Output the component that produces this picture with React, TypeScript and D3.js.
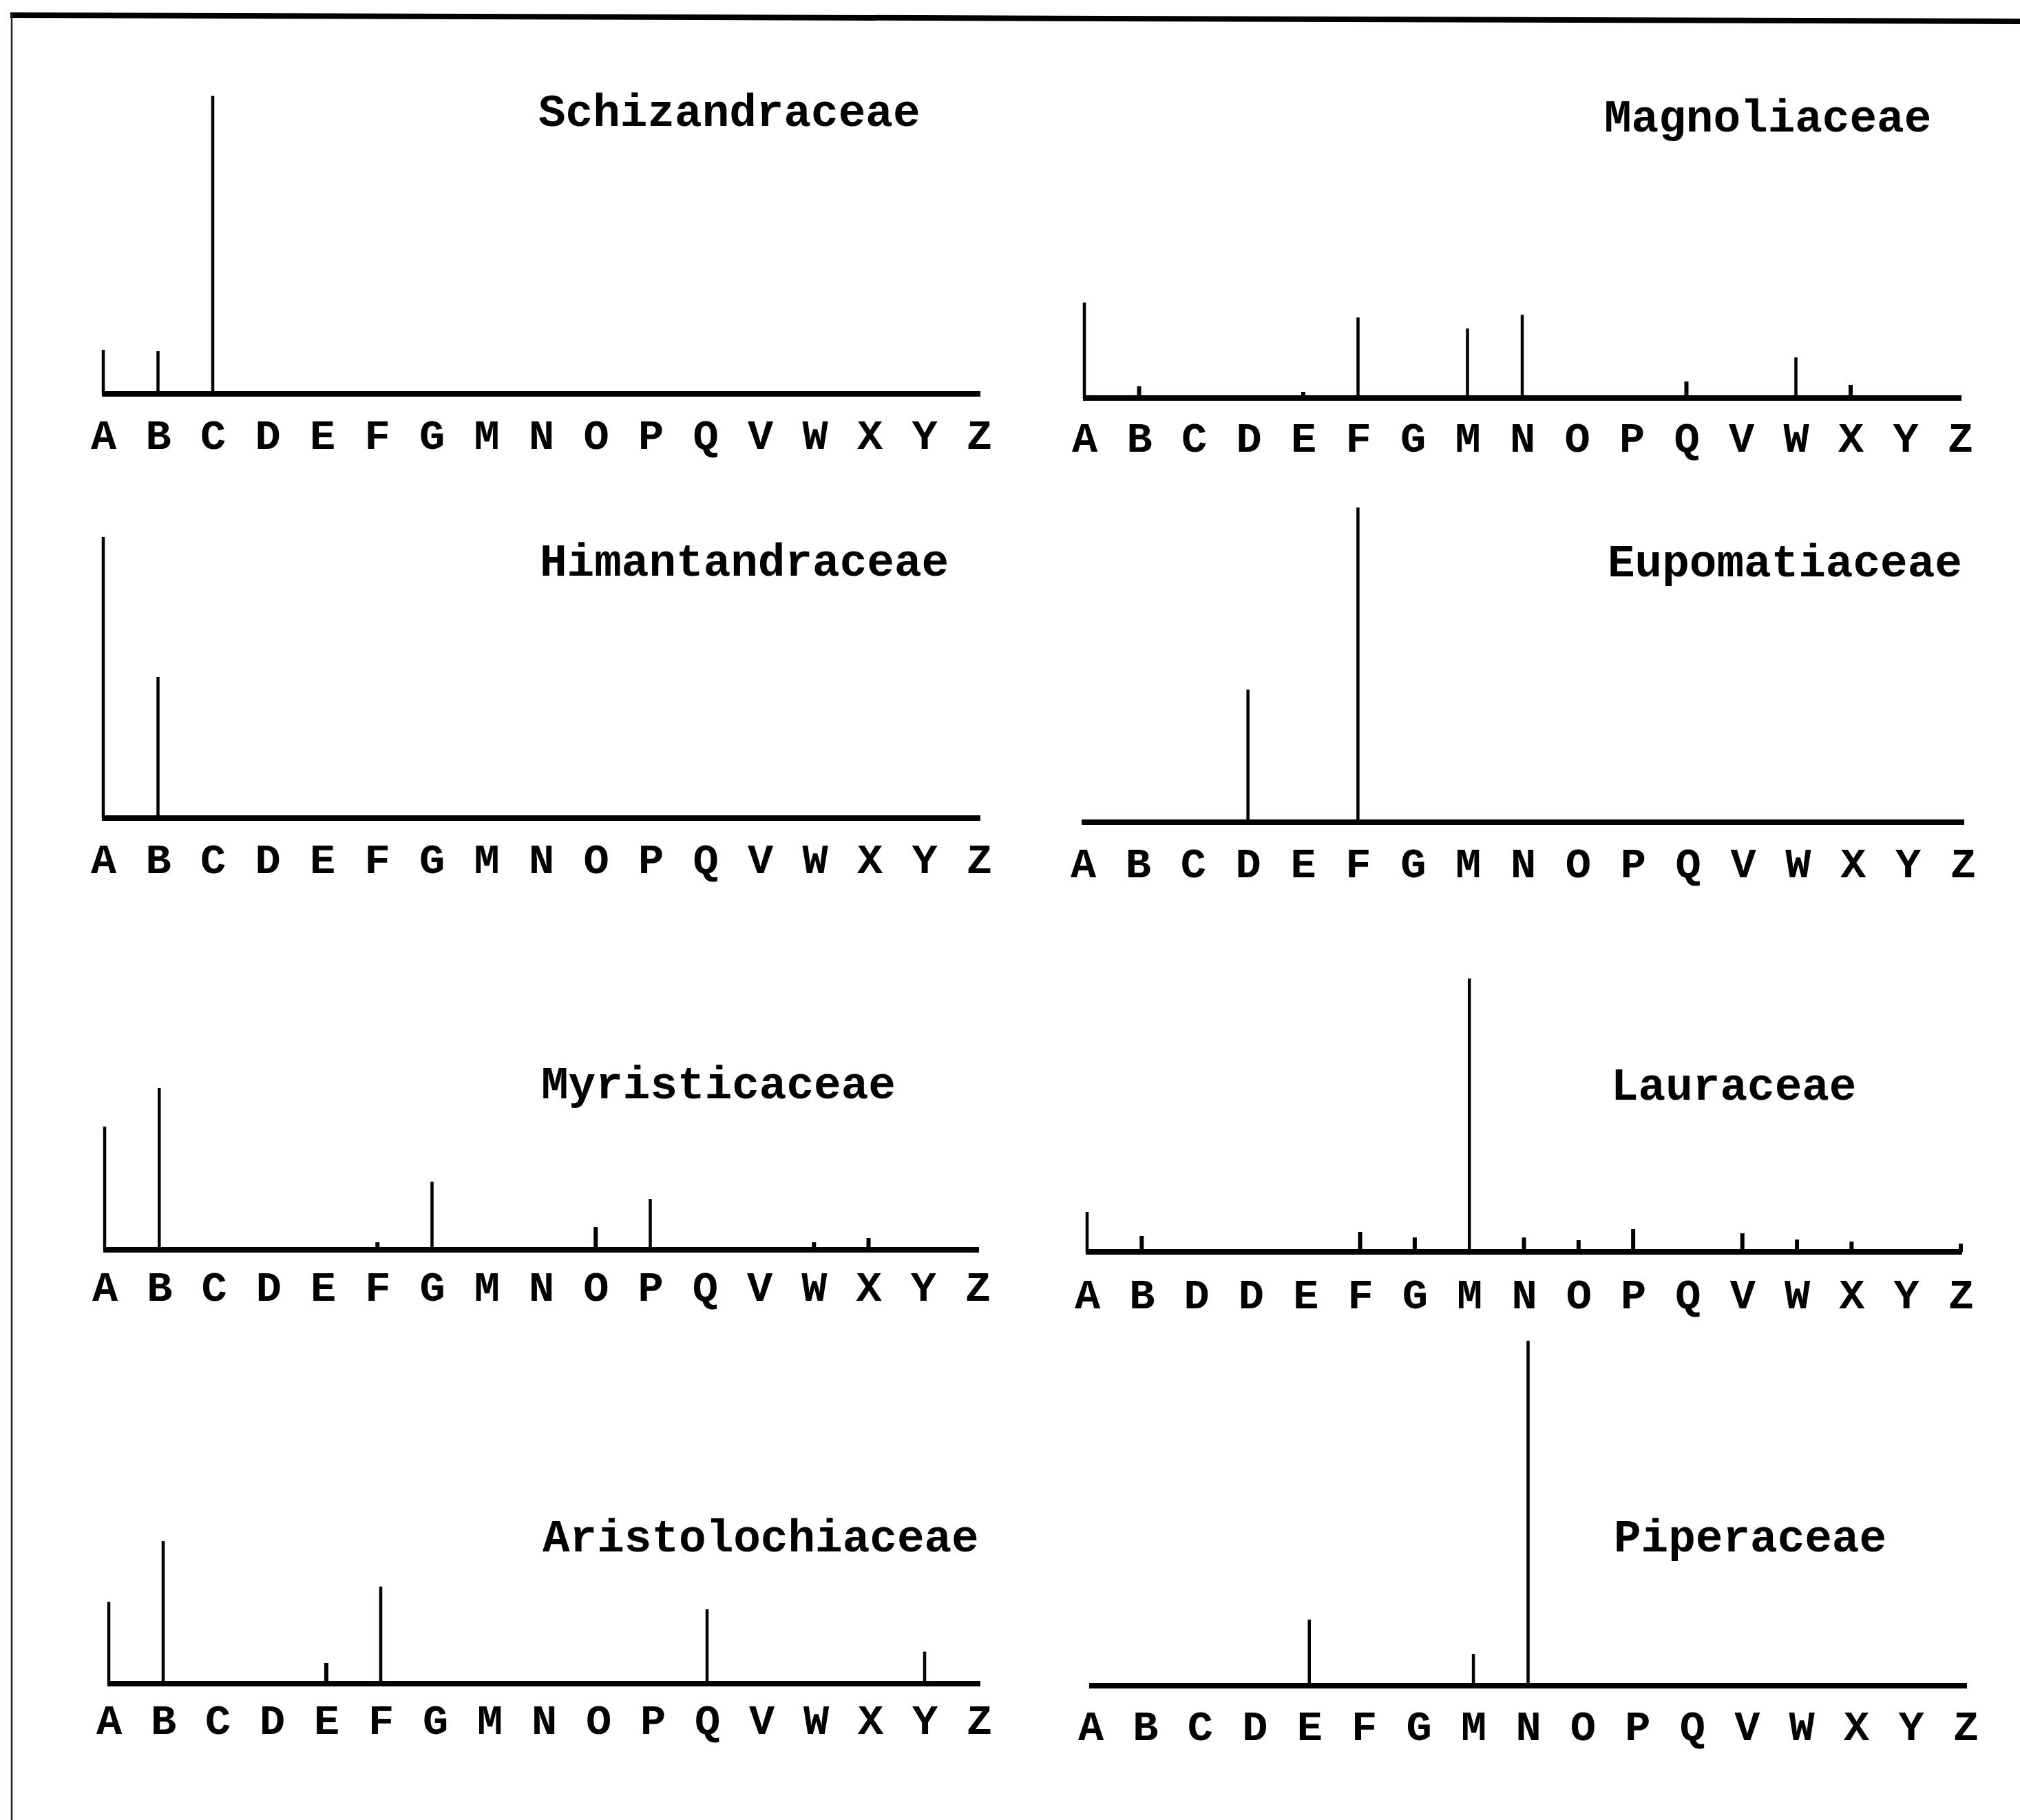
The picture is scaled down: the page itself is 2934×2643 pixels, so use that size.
import React, { useEffect, useRef } from 'react';
import * as d3 from 'd3';

// category labels along each x axis
const letters = ['A', 'B', 'C', 'D', 'E', 'F', 'G', 'M', 'N', 'O', 'P', 'Q', 'V', 'W', 'X', 'Y', 'Z'];
// the Lauraceae panel prints "D" twice in the original figure
const lauraceaeLetters = ['A', 'B', 'D', 'D', 'E', 'F', 'G', 'M', 'N', 'O', 'P', 'Q', 'V', 'W', 'X', 'Y', 'Z'];

// relative peak heights, one value per letter
const schizandraceae = [12.8, 12.4, 86.6, 0, 0, 0, 0, 0, 0, 0, 0, 0, 0, 0, 0, 0, 0];
const magnoliaceae = [27.7, 3.4, 0, 0, 1.8, 23.4, 0, 20.2, 24.2, 0, 0, 4.8, 0, 11.8, 3.8, 0, 0];
const himantandraceae = [81.6, 41, 0, 0, 0, 0, 0, 0, 0, 0, 0, 0, 0, 0, 0, 0, 0];
const eupomatiaceae = [0, 0, 0, 38.5, 0, 91.4, 0, 0, 0, 0, 0, 0, 0, 0, 0, 0, 0];
const myristicaceae = [35.8, 47, 0, 0, 0, 2.2, 19.8, 0, 0, 6.6, 14.8, 0, 0, 2.2, 3.4, 0, 0];
const lauraceae = [11.6, 4.6, 0, 0, 0, 5.8, 4.2, 79.4, 4.2, 3.4, 6.6, 0, 5.4, 3.6, 3, 0, 2.4];
const aristolochiaceae = [23.8, 41.4, 0, 0, 6, 28.2, 0, 0, 0, 0, 0, 21.6, 0, 0, 0, 9.3, 0];
const piperaceae = [0, 0, 0, 0, 19.2, 0, 0, 9.2, 100.2, 0, 0, 0, 0, 0, 0, 0, 0];

const panels = [
  { name: 'Schizandraceae', values: schizandraceae, labels: letters, x0: 150, x1: 1422, base: 572, labelY: 634, tx: 782, ty: 183 },
  { name: 'Magnoliaceae', values: magnoliaceae, labels: letters, x0: 1575, x1: 2847, base: 578, labelY: 638, tx: 2330, ty: 191 },
  { name: 'Himantandraceae', values: himantandraceae, labels: letters, x0: 150, x1: 1422, base: 1188, labelY: 1250, tx: 784, ty: 836 },
  { name: 'Eupomatiaceae', values: eupomatiaceae, labels: letters, x0: 1573, x1: 2851, base: 1194, labelY: 1256, tx: 2335, ty: 837 },
  { name: 'Myristicaceae', values: myristicaceae, labels: letters, x0: 152, x1: 1420, base: 1815, labelY: 1871, tx: 786, ty: 1595 },
  { name: 'Lauraceae', values: lauraceae, labels: lauraceaeLetters, x0: 1579, x1: 2848, base: 1818, labelY: 1882, tx: 2340, ty: 1597 },
  { name: 'Aristolochiaceae', values: aristolochiaceae, labels: letters, x0: 158, x1: 1422, base: 2445, labelY: 2500, tx: 788, ty: 2253 },
  { name: 'Piperaceae', values: piperaceae, labels: letters, x0: 1584, x1: 2855, base: 2448, labelY: 2509, tx: 2344, ty: 2253 },
];

const W = 2934;
const H = 2643;
const labelSize = 62;
const capH = 35;

const App = () => {
  const svgRef = useRef<SVGSVGElement>(null);

  useEffect(() => {
    const svg = d3.select(svgRef.current);
    svg.selectAll('*').remove();
    svg.attr('width', W).attr('height', H).style('background', '#fff');

    // frame: heavy top rule and thin left rule
    svg.append('line')
      .attr('x1', 15).attr('y1', 22).attr('x2', W).attr('y2', 31)
      .attr('stroke', '#000').attr('stroke-width', 8);
    svg.append('line')
      .attr('x1', 17).attr('y1', 20).attr('x2', 17).attr('y2', H)
      .attr('stroke', '#222').attr('stroke-width', 2.5);

    // shared vertical scale: 100 units -> 500 px
    const yScale = d3.scaleLinear().domain([0, 100]).range([0, 500]);

    panels.forEach((p) => {
      const g = svg.append('g');
      const xScale = d3.scalePoint<number>()
        .domain(d3.range(p.labels.length))
        .range([p.x0, p.x1]);

      // baseline
      g.append('line')
        .attr('x1', p.x0 - 2).attr('x2', p.x1 + 2)
        .attr('y1', p.base).attr('y2', p.base)
        .attr('stroke', '#000').attr('stroke-width', 8);

      // peaks
      g.selectAll('.bar')
        .data(p.values.map((v, i) => ({ v, i })).filter((d) => d.v > 0))
        .enter()
        .append('line')
        .attr('x1', (d) => xScale(d.i)!)
        .attr('x2', (d) => xScale(d.i)!)
        .attr('y1', p.base)
        .attr('y2', (d) => p.base - yScale(d.v))
        .attr('stroke', '#000')
        .attr('stroke-width', (d) => (d.v < 8 ? 6 : 4.5));

      // letter axis
      const axis = d3.axisBottom(xScale)
        .tickSize(0)
        .tickFormat((i) => p.labels[i as number]);
      const ax = g.append('g')
        .attr('transform', `translate(0, ${p.base})`)
        .call(axis);
      ax.select('.domain').remove();
      ax.selectAll('text')
        .attr('y', p.labelY - p.base + capH / 2)
        .attr('dy', null)
        .attr('fill', '#000')
        .style('font-family', '"Liberation Mono", "DejaVu Sans Mono", monospace')
        .style('font-weight', 'bold')
        .style('font-size', `${labelSize}px`);

      // family name
      g.append('text')
        .attr('x', p.tx)
        .attr('y', p.ty)
        .text(p.name)
        .style('font-family', '"Liberation Mono", "DejaVu Sans Mono", monospace')
        .style('font-weight', 'bold')
        .style('font-size', '66px')
        .attr('fill', '#000');
    });
  }, []);

  return (
    <div style={{ position: 'absolute', left: 0, top: 0 }}>
      <svg ref={svgRef} style={{ display: 'block' }}></svg>
    </div>
  );
};

export default App;
